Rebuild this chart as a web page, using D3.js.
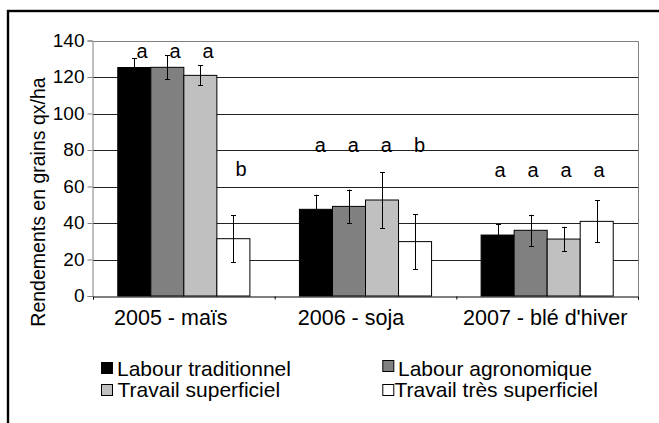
<!DOCTYPE html>
<html><head><meta charset="utf-8">
<script src="https://cdn.jsdelivr.net/npm/d3@7/dist/d3.min.js"></script>
<style>body{margin:0;background:#fff} svg text{font-family:"Liberation Sans",Arial,sans-serif;fill:#000}</style>
</head><body><svg id="c" width="659" height="423"></svg>
<script>
const categories = ["2005 - maïs", "2006 - soja", "2007 - blé d'hiver"];
const seriesNames = ["Labour traditionnel", "Labour agronomique", "Travail superficiel", "Travail très superficiel"];
const seriesColors = ["#000000", "#808080", "#c0c0c0", "#ffffff"];
const labourTraditionnel = [125.2, 47.5, 33.4];
const labourAgronomique = [125.3, 49.1, 36.0];
const travailSuperficiel = [120.9, 52.6, 31.2];
const travailTresSuperficiel = [31.4, 29.8, 40.9];
const errTraditionnel = [5.0, 8.0, 5.9];
const errAgronomique = [6.6, 9.2, 8.5];
const errSuperficiel = [5.5, 15.3, 6.7];
const errTresSuperficiel = [12.8, 15.1, 11.5];
const letters = [["a", "a", "a", "b"], ["a", "a", "a", "b"], ["a", "a", "a", "a"]];
const letterLevels = [[130.2, 130.2, 130.2, 65.8], [79.1, 79.1, 79.1, 79.1], [65.4, 65.4, 65.0, 65.4]];
const yTicks = [0, 20, 40, 60, 80, 100, 120, 140];
const yTitle = "Rendements en grains qx/ha";

const values = [labourTraditionnel, labourAgronomique, travailSuperficiel, travailTresSuperficiel];
const errors = [errTraditionnel, errAgronomique, errSuperficiel, errTresSuperficiel];

const svg = d3.select("#c");
const L = 93, R = 638, T = 40.5, B = 296;

// outer frame
svg.append("rect").attr("x", 8).attr("y", 11).attr("width", 800).attr("height", 600)
  .attr("fill", "none").attr("stroke", "#000").attr("stroke-width", 2.4);

const x = d3.scaleBand().domain(categories).range([L, R]).paddingInner(0).paddingOuter(0);
const xs = d3.scaleBand().domain(seriesNames).range([0, x.bandwidth()]).paddingInner(0).paddingOuter(0.75);
const y = d3.scaleLinear().domain([0, 140]).range([B, T]);

// gridlines
svg.append("g").selectAll("line").data(yTicks.filter(t => t > 0 && t < 140)).join("line")
  .attr("x1", L).attr("x2", R).attr("y1", d => Math.round(y(d)) + 0.5).attr("y2", d => Math.round(y(d)) + 0.5)
  .attr("stroke", "#222").attr("stroke-width", 1);
// plot top & right border
svg.append("path").attr("d", `M${L},${Math.round(T)+0.5}H${R + 0.5}V${B}`)
  .attr("fill", "none").attr("stroke", "#808080").attr("stroke-width", 1);

// bars
const rows = [];
categories.forEach((c, ci) => seriesNames.forEach((s, si) => rows.push({
  c, s, ci, si, v: values[si][ci], e: errors[si][ci], letter: letters[ci][si], lv: letterLevels[ci][si]
})));
svg.append("g").selectAll("rect").data(rows).join("rect")
  .attr("x", d => x(d.c) + xs(d.s)).attr("width", xs.bandwidth())
  .attr("y", d => y(d.v)).attr("height", d => y(0) - y(d.v))
  .attr("fill", d => seriesColors[d.si]).attr("stroke", "#000").attr("stroke-width", 1);

// error bars
const eg = svg.append("g").attr("stroke", "#000").attr("stroke-width", 1);
rows.forEach(d => {
  const cx = Math.round(x(d.c) + xs(d.s) + xs.bandwidth() / 2) + 0.5;
  eg.append("line").attr("x1", cx).attr("x2", cx).attr("y1", y(d.v + d.e)).attr("y2", y(d.v - d.e));
  [d.v + d.e, d.v - d.e].forEach(v => eg.append("line").attr("x1", cx - 2.5).attr("x2", cx + 2.5)
    .attr("y1", Math.round(y(v)) + 0.5).attr("y2", Math.round(y(v)) + 0.5));
});

// significance letters
const letterShift = [7.8, 4.4, 2.4];
svg.append("g").selectAll("text").data(rows).join("text")
  .attr("x", d => x(d.c) + xs(d.s) + xs.bandwidth() / 2 + letterShift[d.ci])
  .attr("y", d => y(d.lv)).attr("text-anchor", "middle").attr("font-size", 20)
  .text(d => d.letter);

// y axis
const ya = svg.append("g").attr("transform", `translate(${L - 0.5},0)`)
  .call(d3.axisLeft(y).tickValues(yTicks).tickSize(5).tickPadding(3).tickFormat(d3.format("d")));
ya.select(".domain").attr("stroke", "#808080");
ya.selectAll(".tick line").attr("stroke", "#808080");
ya.selectAll(".tick text").attr("font-size", 19).attr("font-family", "Liberation Sans, Arial, sans-serif").attr("dy", "0.3em");

// x axis
const xb = d3.scaleLinear().domain([0, 3]).range([L, R]);
const xa = svg.append("g").attr("transform", `translate(0,${B + 0.5})`)
  .call(d3.axisBottom(xb).tickValues([0, 1, 2, 3]).tickSize(3).tickFormat(""));
xa.select(".domain").attr("stroke", "#000");
xa.selectAll(".tick line").attr("stroke", "#000");

const xLabelShift = [-13, -14.5, -2];
svg.append("g").selectAll("text").data(categories).join("text")
  .attr("x", (d, i) => x(d) + x.bandwidth() / 2 + xLabelShift[i]).attr("y", 325)
  .attr("text-anchor", "middle").attr("font-size", 21.5).text(d => d);

// y title
svg.append("text").attr("transform", "translate(45,202) rotate(-90)")
  .attr("text-anchor", "middle").attr("font-size", 19.5).text(yTitle);

// legend
const legPos = [[101, 362, 117, 375.7], [382.3, 360, 398, 375.7], [101, 384, 117.5, 397.3], [382.3, 384, 394.5, 397.3]];
const lg = svg.append("g");
seriesNames.forEach((s, i) => {
  const p = legPos[i];
  lg.append("rect").attr("x", p[0] + 0.5).attr("y", p[1] + 0.5).attr("width", 11).attr("height", 11)
    .attr("fill", seriesColors[i]).attr("stroke", "#000").attr("stroke-width", 1);
  lg.append("text").attr("x", p[2]).attr("y", p[3]).attr("font-size", 21).text(s);
});
</script></body></html>
